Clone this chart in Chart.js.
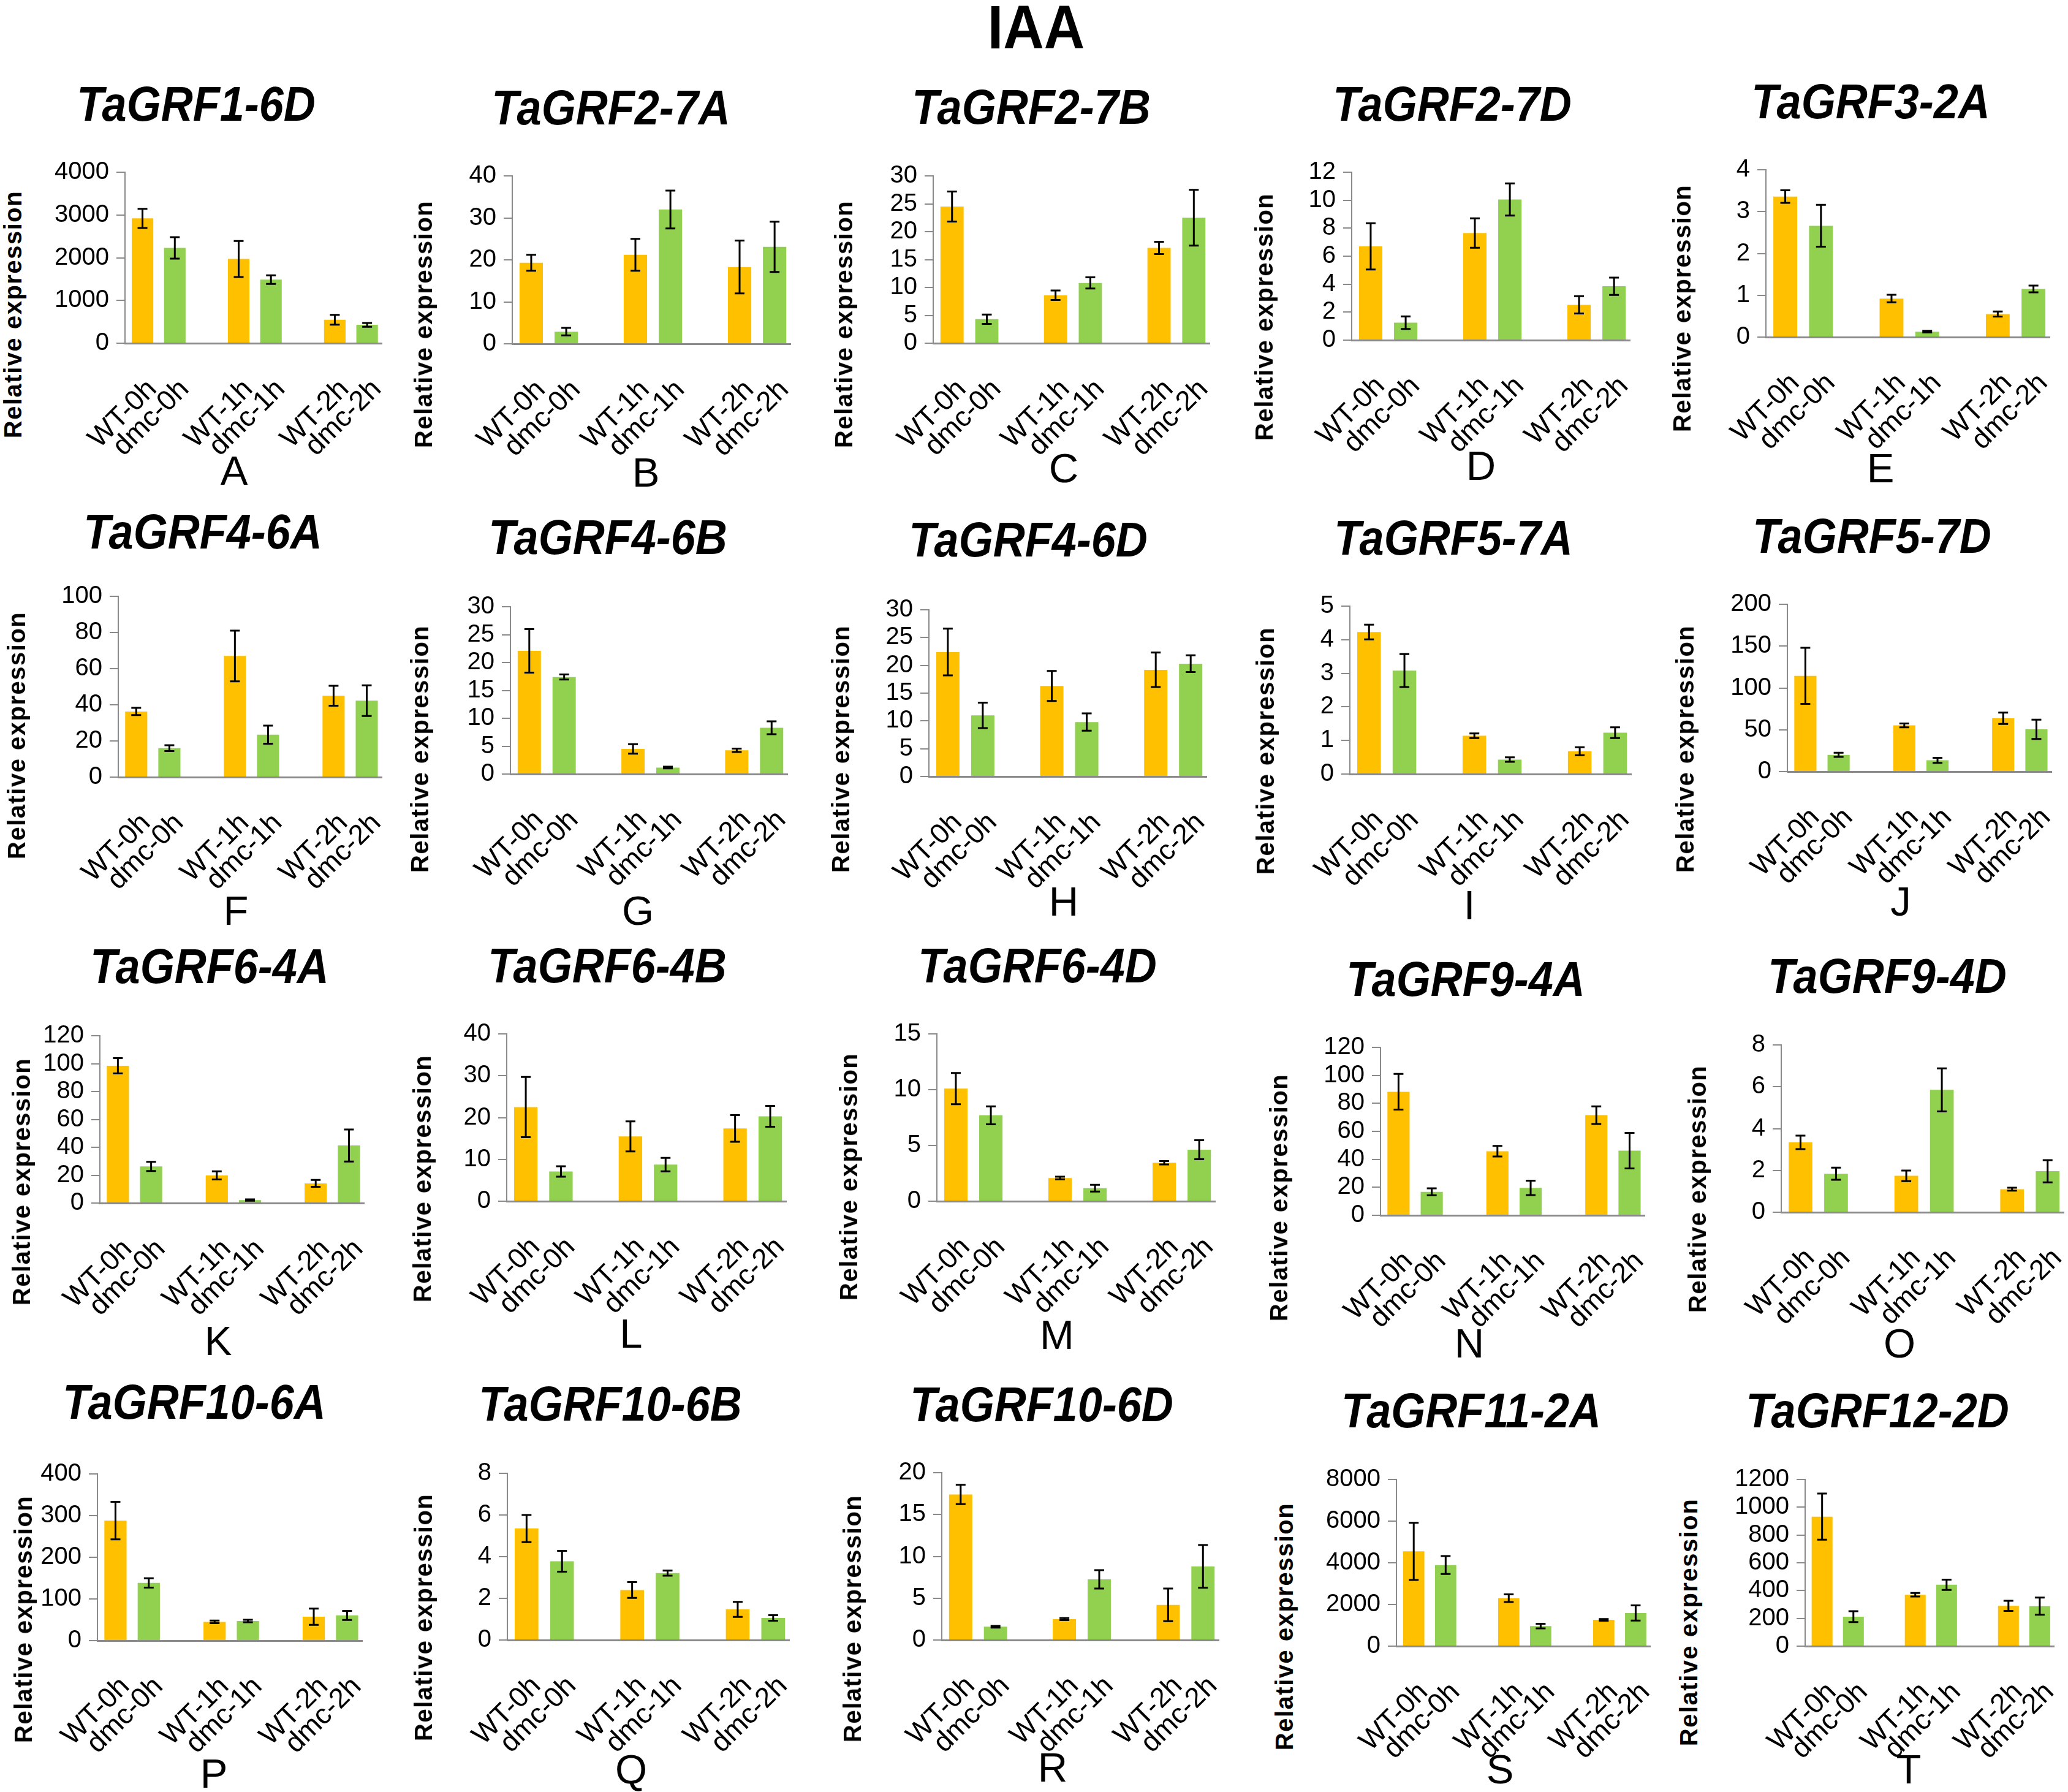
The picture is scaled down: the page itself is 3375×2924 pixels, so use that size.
<!DOCTYPE html>
<html>
<head>
<meta charset="utf-8">
<script src="https://cdn.jsdelivr.net/npm/chart.js@4.4.0/dist/chart.umd.min.js"></script>
<style>
	html, body { margin: 0; padding: 0; background: #fff; }
	#figure {
		position: relative;
		width: 3375px;
		height: 2924px;
		overflow: hidden;
		font-family: 'Liberation Sans', Arial, sans-serif;
		color: #000;
	}
	#figure canvas { position: absolute; }
	.lbl {
		position: absolute;
		white-space: nowrap;
		line-height: 1;
		transform: translate(-50%, -50%);
	}
	.main-title { font-size: 100px; font-weight: bold; transform: translate(-50%, -50%) scaleX(0.92); }
	.gene { font-size: 80px; font-weight: bold; font-style: italic; transform: translate(-50%, -50%) scaleX(0.9); }
	.letter { font-size: 67px; }
	.ytitle { font-size: 40px; font-weight: bold; letter-spacing: 1.5px; transform: translate(-50%, -50%) rotate(-90deg); }
</style>
</head>
<body>
<div id="figure">
	<div class="lbl main-title" style="left:1691px;top:44px">IAA</div>
</div>
<script>
const genes = [
	'TaGRF1-6D', 'TaGRF2-7A', 'TaGRF2-7B', 'TaGRF2-7D', 'TaGRF3-2A',
	'TaGRF4-6A', 'TaGRF4-6B', 'TaGRF4-6D', 'TaGRF5-7A', 'TaGRF5-7D',
	'TaGRF6-4A', 'TaGRF6-4B', 'TaGRF6-4D', 'TaGRF9-4A', 'TaGRF9-4D',
	'TaGRF10-6A', 'TaGRF10-6B', 'TaGRF10-6D', 'TaGRF11-2A', 'TaGRF12-2D',
]
const panelLetters = ['A', 'B', 'C', 'D', 'E', 'F', 'G', 'H', 'I', 'J', 'K', 'L', 'M', 'N', 'O', 'P', 'Q', 'R', 'S', 'T']
const wtLabels = ['WT-0h', 'WT-1h', 'WT-2h']
const dmcLabels = ['dmc-0h', 'dmc-1h', 'dmc-2h']

// one row per panel, A..T
const wtMeans = [
	[2920, 1970, 547], [19.3, 21.2, 18.3], [24.5, 8.6, 17.1], [6.7, 7.65, 2.52], [3.36, 0.92, 0.55],
	[36.3, 67, 45], [22.1, 4.5, 4.25], [22.4, 16.3, 19.2], [4.23, 1.14, 0.68], [114.5, 55.3, 63.8],
	[98.5, 19.8, 14.1], [22.5, 15.5, 17.4], [10.1, 2.08, 3.45], [88.3, 45.8, 71.6], [3.34, 1.74, 1.1],
	[288, 45, 57.5], [5.35, 2.4, 1.47], [17.4, 2.5, 4.2], [4550, 2300, 1263], [932, 370, 290],
]
const wtErrors = [
	[225, 420, 115], [1.9, 3.8, 6.3], [2.7, 0.85, 1.1], [1.65, 1.05, 0.62], [0.15, 0.09, 0.06],
	[2.0, 14, 5.5], [3.9, 0.85, 0.3], [4.2, 2.7, 3.1], [0.22, 0.07, 0.12], [33.5, 2.3, 6.8],
	[5.5, 2.9, 2.5], [7.2, 3.6, 3.2], [1.4, 0.12, 0.15], [12.8, 3.8, 6.3], [0.32, 0.25, 0.07],
	[45, 3, 19.5], [0.65, 0.38, 0.36], [1.15, 0.12, 1.95], [1370, 185, 40], [166, 13, 36],
]
const dmcMeans = [
	[2230, 1488, 429], [2.9, 32, 23.1], [4.3, 10.8, 22.5], [1.25, 10.05, 3.85], [2.66, 0.13, 1.15],
	[16, 23.5, 42.3], [17.4, 1.16, 8.3], [11, 9.8, 20.3], [3.08, 0.43, 1.23], [20, 13.5, 50.6],
	[26.3, 2.1, 41.3], [7.1, 8.75, 20.3], [7.7, 1.17, 4.62], [16.8, 19.6, 46.2], [1.84, 5.85, 1.96],
	[138.5, 47, 60.5], [3.78, 3.21, 1.06], [1.59, 7.25, 8.8], [3890, 960, 1590], [212, 442, 288],
]
const dmcErrors = [
	[250, 100, 45], [0.9, 4.5, 6.0], [0.85, 1.0, 5.0], [0.45, 1.15, 0.62], [0.5, 0.02, 0.08],
	[1.6, 5.0, 8.5], [0.45, 0.15, 1.15], [2.3, 1.55, 1.5], [0.49, 0.065, 0.16], [2.5, 3, 11.5],
	[3.3, 0.5, 11.5], [1.25, 1.6, 2.5], [0.8, 0.3, 0.85], [2.5, 5.1, 12.7], [0.29, 1.03, 0.53],
	[11.3, 3, 10.7], [0.5, 0.12, 0.13], [0.1, 1.1, 2.55], [430, 110, 365], [39, 37, 62],
]
const yMax = [4000, 40, 30, 12, 4, 100, 30, 30, 5, 200, 120, 40, 15, 120, 8, 400, 8, 20, 8000, 1200]
const yStep = [1000, 10, 5, 2, 1, 20, 5, 5, 1, 50, 20, 10, 5, 20, 2, 100, 2, 5, 2000, 200]

// page layout: [y-axis x, top tick y, zero y, x-axis end]
const plotBoxes = [
	[204, 275, 560, 623], [836, 281, 561, 1290], [1523, 281, 560, 1974], [2206, 275, 555, 2660], [2882, 271, 550, 3345],
	[193, 967, 1268, 623], [833, 984, 1263, 1285], [1516, 989, 1267, 1969], [2203, 983, 1263, 2662], [2917, 980, 1259, 3348],
	[163, 1684, 1963, 594], [827, 1681, 1960, 1283], [1529, 1681, 1960, 1983], [2253, 1703, 1983, 2684], [2907, 1699, 1978, 3368],
	[159, 2399, 2677, 591], [828, 2398, 2676, 1288], [1537, 2397, 2676, 1989], [2279, 2408, 2686, 2693], [2946, 2408, 2686, 3352],
]
const geneTitleAt = [
	[320, 170], [997, 176], [1683, 175], [2370, 170], [3053, 166],
	[331, 868], [992, 877], [1678, 881], [2372, 878], [3055, 875],
	[342, 1577], [991, 1576], [1693, 1576], [2392, 1598], [3080, 1593],
	[317, 2288], [996, 2291], [1700, 2292], [2401, 2302], [3064, 2302],
]
const letterAt = [
	[382, 767], [1054, 770], [1736, 763], [2417, 759], [3069, 763],
	[385, 1485], [1041, 1485], [1736, 1470], [2398, 1476], [3102, 1470],
	[356, 2187], [1030, 2175], [1725, 2177], [2398, 2191], [3100, 2191],
	[349, 2893], [1030, 2886], [1718, 2883], [2448, 2886], [3115, 2886],
]
const yTitleAt = [
	[21, 513], [691, 529], [1377, 529], [2063, 517], [2745, 503],
	[27, 1200], [685, 1222], [1372, 1222], [2065, 1225], [2750, 1222],
	[35, 1928], [689, 1923], [1385, 1920], [2087, 1954], [2770, 1940],
	[38, 2642], [691, 2639], [1391, 2641], [2096, 2654], [2756, 2647],
]

const Y_AXIS_W = 150
const X_AXIS_H = 190
const PAD_TOP = 30
const PAD_RIGHT = 4
const X_MIN = -0.35
const X_MAX = 2.32
const WT_COLOR = '#FFC000'
const DMC_COLOR = '#92D050'
const AXIS_COLOR = '#8a8a8a'

Chart.defaults.font.family = "'Liberation Sans', Arial, sans-serif"

const errorBars = {
	id: 'errorBars',
	afterDatasetsDraw(chart, args, opts) {
		const { ctx } = chart
		const yScale = chart.scales.y
		ctx.save()
		ctx.strokeStyle = '#000'
		ctx.lineWidth = 3
		chart.data.datasets.forEach((ds, d) => {
			chart.getDatasetMeta(d).data.forEach((bar, i) => {
				const v = ds.data[i].y
				const e = opts.errors[d][i]
				const hi = yScale.getPixelForValue(v + e)
				const lo = yScale.getPixelForValue(v - e)
				ctx.beginPath()
				ctx.moveTo(bar.x, hi)
				ctx.lineTo(bar.x, lo)
				ctx.moveTo(bar.x - 8, hi)
				ctx.lineTo(bar.x + 8, hi)
				ctx.moveTo(bar.x - 8, lo)
				ctx.lineTo(bar.x + 8, lo)
				ctx.stroke()
			})
		})
		ctx.restore()
	},
}

// rotated label under every bar
const barLabels = {
	id: 'barLabels',
	afterDraw(chart, args, opts) {
		const { ctx, chartArea } = chart
		ctx.save()
		ctx.font = opts.font
		ctx.fillStyle = '#000'
		ctx.textAlign = 'right'
		ctx.textBaseline = 'middle'
		chart.data.datasets.forEach((ds, d) => {
			chart.getDatasetMeta(d).data.forEach((bar, i) => {
				ctx.save()
				ctx.translate(bar.x + opts.dx, chartArea.bottom + opts.dy)
				ctx.rotate(-Math.PI / 4)
				ctx.fillText(opts.labels[d][i], 0, 0)
				ctx.restore()
			})
		})
		ctx.restore()
	},
}

const figure = document.getElementById('figure')

function addText(cls, text, x, y) {
	const el = document.createElement('div')
	el.className = 'lbl ' + cls
	el.textContent = text
	el.style.left = x + 'px'
	el.style.top = y + 'px'
	figure.appendChild(el)
}

genes.forEach((gene, p) => {
	const [ax, topY, zeroY, endX] = plotBoxes[p]
	const canvas = document.createElement('canvas')
	canvas.width = endX - ax + Y_AXIS_W + PAD_RIGHT
	canvas.height = zeroY - topY + PAD_TOP + X_AXIS_H
	canvas.style.left = ax - Y_AXIS_W + 'px'
	canvas.style.top = topY - PAD_TOP + 'px'
	figure.appendChild(canvas)

	new Chart(canvas, {
		type: 'bar',
		data: {
			datasets: [
				{
					data: wtMeans[p].map((v, i) => ({ x: i, y: v })),
					backgroundColor: WT_COLOR,
					borderWidth: 0,
					categoryPercentage: 0.672,
					barPercentage: 0.667,
				},
				{
					data: dmcMeans[p].map((v, i) => ({ x: i, y: v })),
					backgroundColor: DMC_COLOR,
					borderWidth: 0,
					categoryPercentage: 0.672,
					barPercentage: 0.667,
				},
			],
		},
		options: {
			responsive: false,
			animation: false,
			devicePixelRatio: 1,
			layout: { padding: { top: PAD_TOP, right: PAD_RIGHT, left: 0, bottom: 0 } },
			plugins: {
				legend: { display: false },
				tooltip: { enabled: false },
				errorBars: { errors: [wtErrors[p], dmcErrors[p]] },
				barLabels: {
					labels: [wtLabels, dmcLabels],
					font: "46px 'Liberation Sans', Arial, sans-serif",
					dx: 16,
					dy: 68,
				},
			},
			scales: {
				x: {
					type: 'linear',
					bounds: 'data',
					offset: false,
					min: X_MIN,
					max: X_MAX,
					grid: { display: false },
					ticks: { display: false },
					border: { display: true, color: AXIS_COLOR, width: 3 },
					afterDataLimits: (s) => {
						s.min = X_MIN
						s.max = X_MAX
					},
					afterBuildTicks: (s) => {
						s.min = X_MIN
						s.max = X_MAX
						s.ticks = wtLabels.map((_, i) => ({ value: i }))
					},
					afterFit: (s) => {
						s.height = X_AXIS_H
					},
				},
				y: {
					min: 0,
					max: yMax[p],
					ticks: {
						stepSize: yStep[p],
						autoSkip: false,
						padding: 12,
						color: '#000',
						font: { size: 40 },
						callback: (v) => String(v),
					},
					grid: { drawOnChartArea: false, tickLength: 14, color: AXIS_COLOR, lineWidth: 2 },
					border: { color: AXIS_COLOR, width: 2 },
					afterFit: (s) => {
						s.width = Y_AXIS_W
					},
				},
			},
		},
		plugins: [errorBars, barLabels],
	})

	addText('gene', gene, geneTitleAt[p][0], geneTitleAt[p][1])
	addText('letter', panelLetters[p], letterAt[p][0], letterAt[p][1])
	addText('ytitle', 'Relative expression', yTitleAt[p][0], yTitleAt[p][1])
})
</script>
</body>
</html>
